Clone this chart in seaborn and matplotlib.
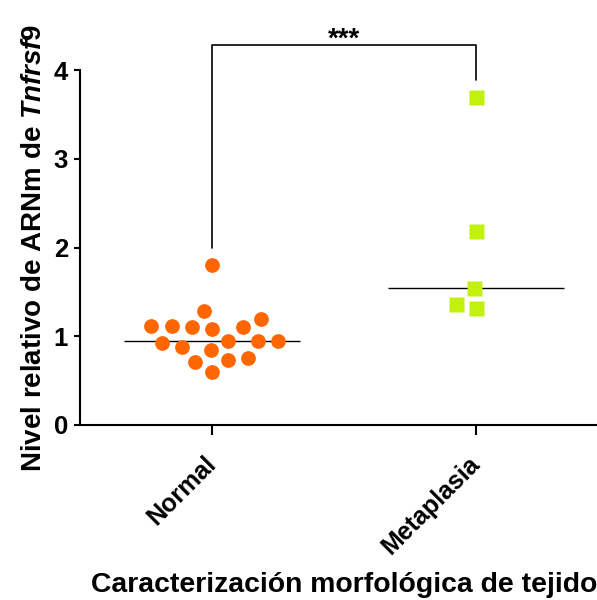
import numpy as np
import pandas as pd
import matplotlib
matplotlib.use("Agg")
import matplotlib.pyplot as plt
import matplotlib.transforms as mtransforms
import seaborn as sns

categories = ["Normal", "Metaplasia"]
normal_values = [1.80, 1.28, 1.19, 1.12, 1.12, 1.10, 1.08, 1.10, 0.95, 0.92,
                 0.95, 0.95, 0.88, 0.84, 0.73, 0.71, 0.76, 0.60]
metaplasia_values = [3.70, 2.19, 1.54, 1.32, 1.36]
colors = ["#FF6600", "#C2F00F"]
markers = ["o", "s"]
yticks = [0, 1, 2, 3, 4]
ylabel = r"Nivel relativo de ARNm de $\mathit{Tnfrsf9}$"
xlabel = "Caracterización morfológica de tejido"
sig_label = "***"

sns.set_style("ticks", {"axes.edgecolor": "black", "text.color": "black",
                        "axes.labelcolor": "black", "xtick.color": "black",
                        "ytick.color": "black"})
plt.rcParams["font.family"] = ["Liberation Sans", "DejaVu Sans"]
plt.rcParams["mathtext.fontset"] = "custom"
plt.rcParams["mathtext.rm"] = "Liberation Sans:bold"
plt.rcParams["mathtext.it"] = "Liberation Sans:italic:bold"
plt.rcParams["mathtext.bf"] = "Liberation Sans:bold"

df = pd.DataFrame({
    "group": [categories[0]] * len(normal_values) + [categories[1]] * len(metaplasia_values),
    "value": normal_values + metaplasia_values,
})

fig = plt.figure(figsize=(5.97, 6.0), dpi=100)
ax = fig.add_axes([80 / 597, 1 - 425 / 600, 528 / 597, 355 / 600])

# transparent marker edge widens the swarm spacing without changing the visible size
for cat, col, mk, sz in zip(categories, colors, markers, [10.6, 10.8]):
    sub = df[df["group"] == cat]
    sns.swarmplot(data=sub, x="group", y="value", order=categories, color=col,
                  marker=mk, size=sz, linewidth=3.3, edgecolor=(1, 1, 1, 0),
                  ax=ax, zorder=3)

sns.boxplot(data=df, x="group", y="value", order=categories, width=0.667,
            showbox=False, showcaps=False, showfliers=False,
            whiskerprops={"visible": False},
            medianprops={"color": "black", "linewidth": 1.0},
            ax=ax, zorder=2)

ax.set_xlim(-0.5, 1.5)
ax.set_ylim(0, 4)
ax.set_yticks(yticks)
ax.set_yticklabels([str(t) for t in yticks], fontsize=18.5, fontweight="bold")
ax.set_xticks(range(len(categories)))
ax.set_xticklabels(categories, rotation=45, ha="right", rotation_mode="anchor",
                   fontsize=18, fontweight="bold")
ax.tick_params(axis="both", colors="black")
ax.tick_params(axis="y", length=4.5, width=1.5, pad=4)
ax.tick_params(axis="x", length=7, width=1.5, pad=10)
offset = mtransforms.ScaledTranslation(-6 / 72, -2 / 72, fig.dpi_scale_trans)
for lab in ax.get_xticklabels():
    lab.set_transform(lab.get_transform() + offset)
for s in ["left", "bottom"]:
    ax.spines[s].set_linewidth(1.5)
    ax.spines[s].set_color("black")
sns.despine(ax=ax)

ax.set_ylabel(ylabel, fontsize=20, fontweight="bold", labelpad=5, color="black")
ax.set_xlabel(xlabel, fontsize=20.4, fontweight="bold", labelpad=10, color="black")

# significance bracket
y_top = 4.28
ax.plot([0, 0, 1, 1], [max(normal_values) + 0.19, y_top, y_top, max(metaplasia_values) + 0.19],
        color="black", linewidth=1.2, clip_on=False)
ax.text(0.5, y_top - 0.08, sig_label, ha="center", va="bottom", fontsize=20,
        fontweight="bold", color="black")

fig.savefig("out.png", dpi=100)
